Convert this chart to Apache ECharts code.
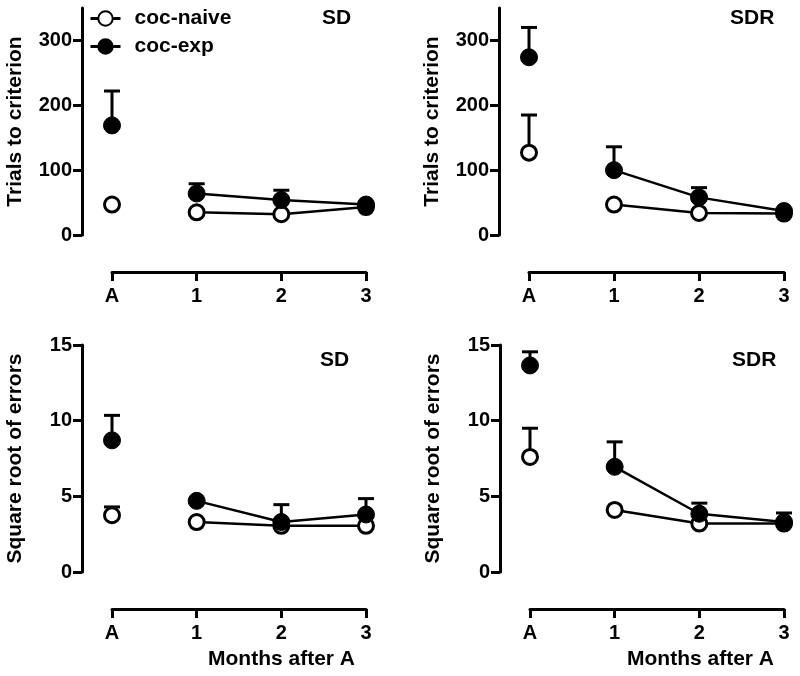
<!DOCTYPE html>
<html>
<head>
<meta charset="utf-8">
<script src="https://cdn.jsdelivr.net/npm/echarts@6/dist/echarts.min.js"></script>
<style>
  html, body { margin: 0; padding: 0; background: #fff; }
  #chart { width: 800px; height: 676px; }
</style>
</head>
<body>
<div id="chart"></div>
<script>
var months = ["A", "1", "2", "3"];

// trials to criterion
var sdTrialsNaive = [47, 35, 32, 43];
var sdTrialsExp = [169, 64, 54, 47];
var sdTrialsNaiveUpper = [null, null, null, null];
var sdTrialsExpUpper = [222, 79, 69, null];

var sdrTrialsNaive = [127, 47, 34, 33];
var sdrTrialsExp = [274, 100, 58, 37];
var sdrTrialsNaiveUpper = [185, null, null, null];
var sdrTrialsExpUpper = [320, 136, 73, null];

// square root of errors
var sdErrNaive = [3.75, 3.3, 3.05, 3.05];
var sdErrExp = [8.7, 4.7, 3.3, 3.8];
var sdErrNaiveUpper = [4.3, null, null, null];
var sdErrExpUpper = [10.35, null, 4.45, 4.85];

var sdrErrNaive = [7.6, 4.1, 3.2, 3.2];
var sdrErrExp = [13.65, 6.95, 3.85, 3.3];
var sdrErrNaiveUpper = [9.5, null, null, null];
var sdrErrExpUpper = [14.55, 8.6, 4.55, 3.9];

var trialTicks = [0, 100, 200, 300];
var errTicks = [0, 5, 10, 15];

var FONT = "Liberation Sans";
var INK = "#000";

var chart = echarts.init(document.getElementById("chart"), null, { renderer: "canvas" });

var panels = [
  { grid: { left: 112, right: 434, top: 8, bottom: 441 }, max: 350, ticks: trialTicks, yName: "Trials to criterion",
    naive: sdTrialsNaive, exp: sdTrialsExp, naiveUp: sdTrialsNaiveUpper, expUp: sdTrialsExpUpper },
  { grid: { left: 529, right: 16, top: 8, bottom: 441 }, max: 350, ticks: trialTicks, yName: "Trials to criterion",
    naive: sdrTrialsNaive, exp: sdrTrialsExp, naiveUp: sdrTrialsNaiveUpper, expUp: sdrTrialsExpUpper },
  { grid: { left: 112, right: 434, top: 345, bottom: 104 }, max: 15, ticks: errTicks, yName: "Square root of errors",
    naive: sdErrNaive, exp: sdErrExp, naiveUp: sdErrNaiveUpper, expUp: sdErrExpUpper },
  { grid: { left: 530, right: 16, top: 345, bottom: 104 }, max: 15, ticks: errTicks, yName: "Square root of errors",
    naive: sdrErrNaive, exp: sdrErrExp, naiveUp: sdrErrNaiveUpper, expUp: sdrErrExpUpper }
];

var labelStyle = { color: INK, fontFamily: FONT, fontWeight: "bold", fontSize: 21 };
var tickFont = { color: INK, fontFamily: FONT, fontWeight: "bold", fontSize: 20 };

function errData(mean, upper) {
  var out = [];
  for (var i = 0; i < mean.length; i++) {
    if (upper[i] != null) out.push([i, mean[i], upper[i]]);
  }
  return out;
}

function renderErr(params, api) {
  var base = api.coord([api.value(0), api.value(1)]);
  var top = api.coord([api.value(0), api.value(2)]);
  var half = 8;
  var st = { stroke: INK, lineWidth: 3, fill: null };
  return {
    type: "group",
    children: [
      { type: "line", shape: { x1: base[0], y1: base[1], x2: top[0], y2: top[1] }, style: st },
      { type: "line", shape: { x1: top[0] - half, y1: top[1], x2: top[0] + half, y2: top[1] }, style: st }
    ]
  };
}

function lineOnly(arr) {
  return arr.map(function (v, i) { return i === 0 ? "-" : v; });
}
function firstOnly(arr) {
  return arr.map(function (v, i) { return i === 0 ? v : "-"; });
}

var grids = [], xAxes = [], yAxes = [], series = [];

panels.forEach(function (p, k) {
  grids.push(p.grid);
  xAxes.push({
    type: "category", gridIndex: k, data: months, boundaryGap: false, offset: 37,
    axisLine: { onZero: false, lineStyle: { color: INK, width: 3 } },
    axisTick: { length: 9, lineStyle: { color: INK, width: 3 } },
    axisLabel: Object.assign({ margin: 14 }, tickFont)
  });
  yAxes.push({
    type: "value", gridIndex: k, min: 0, max: p.max, offset: 30,
    name: p.yName, nameLocation: "middle", nameGap: 56, nameTextStyle: labelStyle,
    splitLine: { show: false },
    axisLine: { show: true, onZero: false, lineStyle: { color: INK, width: 3 } },
    axisTick: { show: true, length: 9, customValues: p.ticks, lineStyle: { color: INK, width: 3 } },
    axisLabel: Object.assign({ margin: 10, customValues: p.ticks }, tickFont)
  });

  var groups = [
    { name: "coc-naive", vals: p.naive, up: p.naiveUp, fill: "#fff", size: 15, border: 3 },
    { name: "coc-exp", vals: p.exp, up: p.expUp, fill: INK, size: 17, border: 1 }
  ];
  groups.forEach(function (g) {
    series.push({
      type: "custom", xAxisIndex: k, yAxisIndex: k, z: 1,
      data: errData(g.vals, g.up), renderItem: renderErr, silent: true
    });
    series.push({
      name: g.name, type: "line", xAxisIndex: k, yAxisIndex: k,
      data: lineOnly(g.vals), symbol: "circle", symbolSize: g.size, showAllSymbol: true,
      lineStyle: { color: INK, width: 2.5 },
      itemStyle: { color: g.fill, borderColor: INK, borderWidth: g.border },
      animation: false, silent: true
    });
    series.push({
      name: g.name, type: "scatter", xAxisIndex: k, yAxisIndex: k,
      data: firstOnly(g.vals), symbol: "circle", symbolSize: g.size,
      itemStyle: { color: g.fill, borderColor: INK, borderWidth: g.border, opacity: 1 },
      animation: false, silent: true
    });
  });
});

var titleStyle = { color: INK, fontFamily: FONT, fontWeight: "bold", fontSize: 21 };

chart.setOption({
  backgroundColor: "#fff",
  animation: false,
  title: [
    { text: "SD", left: 322, top: 8, textStyle: titleStyle, padding: 0 },
    { text: "SDR", left: 730, top: 8, textStyle: titleStyle, padding: 0 },
    { text: "SD", left: 320, top: 350, textStyle: titleStyle, padding: 0 },
    { text: "SDR", left: 732, top: 350, textStyle: titleStyle, padding: 0 },
    { text: "Months after A", left: 208, top: 649, textStyle: titleStyle, padding: 0 },
    { text: "Months after A", left: 627, top: 649, textStyle: titleStyle, padding: 0 }
  ],
  legend: {
    data: ["coc-naive", "coc-exp"],
    orient: "vertical", left: 89, top: 8, itemGap: 7,
    itemWidth: 30, itemHeight: 18, padding: 0,
    lineStyle: { width: 3 },
    textStyle: { color: INK, fontFamily: FONT, fontWeight: "bold", fontSize: 21, padding: [0, 0, 0, 9] },
    selectedMode: false
  },
  grid: grids,
  xAxis: xAxes,
  yAxis: yAxes,
  series: series
});
</script>
</body>
</html>
